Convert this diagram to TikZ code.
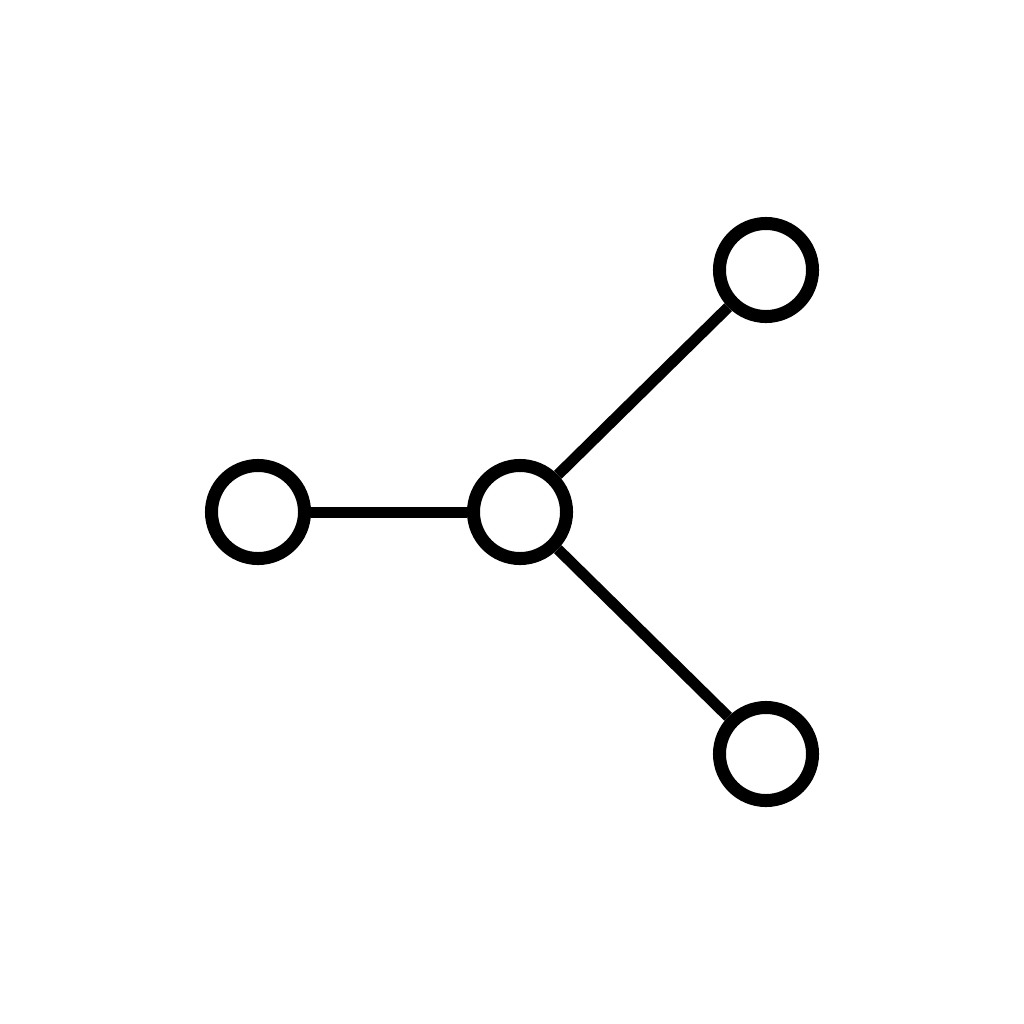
\documentclass[tikz,border=0pt]{standalone}
\begin{document}
\begin{tikzpicture}[x=0.01cm,y=-0.01cm,
  vert/.style={circle,draw=black,fill=white,line width=0.13cm,minimum size=0.93cm,inner sep=0pt},
  edge/.style={line width=0.11cm,draw=black}]
\useasboundingbox (0,0) rectangle (1024,1024);
\node[vert] (l) at (258,512) {};
\node[vert] (c) at (520,512) {};
\node[vert] (tr) at (766,270) {};
\node[vert] (br) at (766,754) {};
\draw[edge] (l) -- (c);
\draw[edge] (c) -- (tr);
\draw[edge] (c) -- (br);
\end{tikzpicture}
\end{document}
